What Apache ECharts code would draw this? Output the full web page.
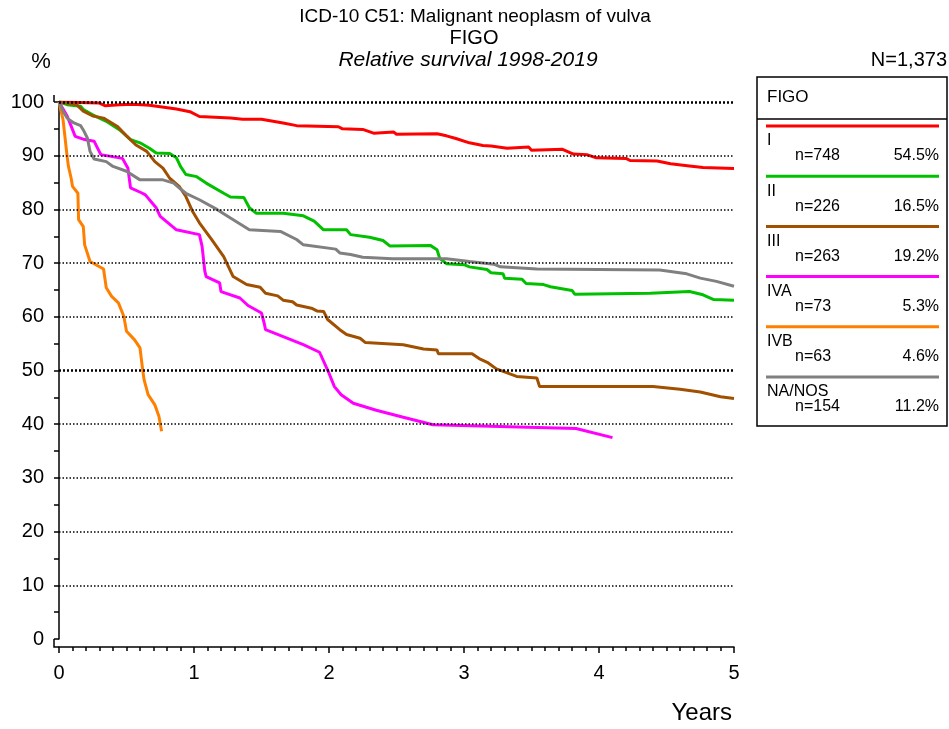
<!DOCTYPE html>
<html lang="en">
<head>
    <meta charset="UTF-8">
    <title>Relative survival by FIGO stage</title>
    <script src="https://cdn.jsdelivr.net/npm/echarts@6/dist/echarts.min.js"></script>
    <style>
        body { margin: 0; background: #fff; }
    </style>
</head>
<body>
<div id="chart" style="width: 949px;height:729px;"></div>
<script type="text/javascript">
    // survival curves, [years, percent]
    var stageI = [[0, 100], [0.3, 99.8], [0.34, 99.3], [0.45, 99.5], [0.55, 99.6], [0.67, 99.4], [0.87, 98.7], [0.97, 98.2],
        [1.04, 97.3], [1.27, 97.0], [1.36, 96.8], [1.5, 96.8], [1.66, 96.1], [1.76, 95.6], [2.07, 95.4], [2.1, 95.0],
        [2.25, 94.9], [2.33, 94.2], [2.48, 94.4], [2.5, 94.0], [2.8, 94.1], [2.87, 93.7], [2.94, 93.2], [3.04, 92.4],
        [3.14, 91.9], [3.2, 91.8], [3.32, 91.4], [3.48, 91.6], [3.5, 91.0], [3.73, 91.2], [3.81, 90.3], [3.91, 90.2],
        [3.98, 89.6], [4.2, 89.5], [4.23, 89.1], [4.43, 89.0], [4.53, 88.5], [4.67, 88.1], [4.77, 87.8], [5, 87.6]];
    var stageII = [[0, 100], [0.06, 99.5], [0.16, 99.2], [0.18, 98.6], [0.25, 97.6], [0.35, 96.4], [0.45, 94.8], [0.53, 93.0],
        [0.6, 92.4], [0.67, 91.4], [0.72, 90.5], [0.82, 90.4], [0.87, 89.6], [0.9, 88.0], [0.94, 86.5], [1.02, 86.1],
        [1.09, 84.9], [1.22, 83.0], [1.27, 82.3], [1.37, 82.2], [1.41, 80.3], [1.46, 79.3], [1.66, 79.3], [1.81, 78.8],
        [1.89, 77.8], [1.96, 76.2], [2.13, 76.2], [2.16, 75.3], [2.3, 74.8], [2.4, 74.2], [2.45, 73.2], [2.75, 73.3],
        [2.8, 72.5], [2.82, 70.9], [2.87, 69.9], [3.0, 69.7], [3.04, 69.3], [3.17, 68.8], [3.2, 68.2], [3.29, 68.0],
        [3.3, 67.2], [3.43, 67.0], [3.46, 66.2], [3.59, 66.0], [3.64, 65.6], [3.8, 64.9], [3.82, 64.2], [4.38, 64.4],
        [4.67, 64.7], [4.77, 64.1], [4.85, 63.2], [5, 63.1]];
    var stageIII = [[0, 100], [0.13, 99.5], [0.18, 98.3], [0.25, 97.4], [0.33, 97.0], [0.43, 95.5], [0.5, 93.7], [0.57, 92.0],
        [0.65, 90.8], [0.71, 88.9], [0.77, 87.7], [0.82, 85.8], [0.89, 84.3], [0.94, 82.4], [0.99, 79.6], [1.04, 77.5],
        [1.13, 74.4], [1.22, 71.2], [1.29, 67.5], [1.39, 66.0], [1.49, 65.5], [1.53, 64.4], [1.62, 63.9], [1.66, 63.1],
        [1.73, 62.8], [1.76, 62.2], [1.87, 61.6], [1.91, 61.1], [1.96, 61.0], [1.99, 59.5], [2.08, 57.6], [2.13, 56.7],
        [2.23, 56.0], [2.27, 55.2], [2.55, 54.8], [2.7, 54.0], [2.8, 53.8], [2.81, 53.1], [3.06, 53.1], [3.12, 52.1],
        [3.18, 51.4], [3.24, 50.3], [3.39, 48.9], [3.54, 48.6], [3.56, 47.0], [4.4, 47.0], [4.6, 46.5], [4.75, 46.0],
        [4.9, 45.1], [5, 44.8]];
    var stageIVA = [[0, 100], [0.06, 97.4], [0.09, 95.5], [0.12, 93.6], [0.19, 93.0], [0.26, 92.7], [0.28, 91.7], [0.31, 90.2],
        [0.47, 89.5], [0.51, 87.7], [0.53, 84.0], [0.61, 83.1], [0.64, 82.7], [0.69, 81.2], [0.72, 80.3], [0.75, 78.7],
        [0.87, 76.2], [1.04, 75.3], [1.06, 73.1], [1.08, 68.5], [1.09, 67.5], [1.19, 66.3], [1.2, 64.7], [1.34, 63.5],
        [1.4, 62.1], [1.5, 60.7], [1.52, 58.8], [1.53, 57.6], [1.81, 54.8], [1.93, 53.4], [2.0, 49.5], [2.04, 47.0],
        [2.09, 45.5], [2.18, 43.9], [2.35, 42.6], [2.55, 41.3], [2.77, 39.9], [3.83, 39.2], [4.1, 37.5]];
    var stageIVB = [[0, 100], [0.03, 96.7], [0.06, 89.9], [0.07, 88.0], [0.09, 85.8], [0.1, 84.3], [0.14, 83.0], [0.145, 78.1],
        [0.18, 76.8], [0.19, 73.4], [0.23, 70.3], [0.33, 68.9], [0.35, 65.4], [0.39, 63.8], [0.44, 62.6], [0.48, 60.1],
        [0.5, 57.3], [0.56, 55.7], [0.6, 54.2], [0.62, 50.1], [0.63, 48.3], [0.66, 45.5], [0.71, 43.6], [0.74, 41.5],
        [0.76, 38.7]];
    var stageNA = [[0, 100], [0.03, 98.3], [0.06, 97.0], [0.11, 96.1], [0.16, 95.6], [0.18, 94.8], [0.21, 93.3], [0.23, 90.8],
        [0.26, 89.4], [0.35, 88.9], [0.4, 88.0], [0.5, 87.1], [0.6, 85.5], [0.77, 85.5], [0.85, 84.9], [0.89, 84.0],
        [0.94, 83.0], [1.04, 81.8], [1.17, 80.0], [1.27, 78.4], [1.41, 76.2], [1.64, 75.9], [1.76, 74.4], [1.81, 73.4],
        [2.05, 72.6], [2.08, 71.9], [2.16, 71.6], [2.25, 71.1], [2.47, 70.8], [2.87, 70.8], [3.04, 70.3], [3.22, 69.8],
        [3.27, 69.3], [3.54, 68.9], [4.45, 68.7], [4.65, 68.0], [4.75, 67.2], [4.87, 66.6], [5, 65.7]];

    var groups = ['I', 'II', 'III', 'IVA', 'IVB', 'NA/NOS'];
    var counts = [748, 226, 263, 73, 63, 154];
    var shares = ['54.5%', '16.5%', '19.2%', '5.3%', '4.6%', '11.2%'];
    var colors = ['#ff0000', '#00c000', '#a05000', '#ff00ff', '#ff8000', '#808080'];
    var curves = [stageI, stageII, stageIII, stageIVA, stageIVB, stageNA];
    var gridValues = [10, 20, 30, 40, 50, 60, 70, 80, 90, 100];
    var boldGrid = [50, 100];

    var font = "'Liberation Sans', Arial, sans-serif";
    var chart = echarts.init(document.getElementById('chart'));

    var series = curves.map(function (d, i) {
        return {
            name: groups[i],
            type: 'line',
            data: d,
            showSymbol: false,
            silent: true,
            lineStyle: {color: colors[i], width: 3},
            itemStyle: {color: colors[i]},
            z: 3
        };
    });
    // dotted reference lines
    series.push({
        type: 'line',
        data: [],
        silent: true,
        markLine: {
            silent: true,
            symbol: 'none',
            label: {show: false},
            data: gridValues.map(function (v) {
                var bold = boldGrid.indexOf(v) >= 0;
                return {
                    yAxis: v,
                    lineStyle: {color: '#000', type: bold ? [2, 2] : [1.5, 2], width: bold ? 2.5 : 1.5}
                };
            })
        },
        z: 1
    });

    // legend box
    var legendItems = [
        {type: 'rect', shape: {x: 757, y: 77, width: 190, height: 349}, style: {fill: '#fff', stroke: '#000', lineWidth: 1.5}},
        {type: 'line', shape: {x1: 757, y1: 119, x2: 947, y2: 119}, style: {stroke: '#000', lineWidth: 1.5}},
        {type: 'text', x: 767, y: 97, style: {text: 'FIGO', font: '17px ' + font, fill: '#000', textVerticalAlign: 'middle'}}
    ];
    groups.forEach(function (g, i) {
        var ly = 126 + i * 50.2;
        legendItems.push(
            {type: 'line', shape: {x1: 766, y1: ly, x2: 939, y2: ly}, style: {stroke: colors[i], lineWidth: 3}},
            {type: 'text', x: 767, y: ly + 15, style: {text: g, font: '16px ' + font, fill: '#000', textVerticalAlign: 'middle'}},
            {type: 'text', x: 795, y: ly + 30, style: {text: 'n=' + counts[i], font: '16px ' + font, fill: '#000', textVerticalAlign: 'middle'}},
            {type: 'text', x: 939, y: ly + 30, style: {text: shares[i], font: '16px ' + font, fill: '#000', textAlign: 'right', textVerticalAlign: 'middle'}}
        );
    });

    var texts = [
        {type: 'text', x: 475, y: 17, style: {text: 'ICD-10 C51: Malignant neoplasm of vulva', font: '19px ' + font, fill: '#000', textAlign: 'center', textVerticalAlign: 'middle'}},
        {type: 'text', x: 474, y: 38, style: {text: 'FIGO', font: '20px ' + font, fill: '#000', textAlign: 'center', textVerticalAlign: 'middle'}},
        {type: 'text', x: 468, y: 60, style: {text: 'Relative survival 1998-2019', font: 'italic 21px ' + font, fill: '#000', textAlign: 'center', textVerticalAlign: 'middle'}},
        {type: 'text', x: 41, y: 62, style: {text: '%', font: '22px ' + font, fill: '#000', textAlign: 'center', textVerticalAlign: 'middle'}},
        {type: 'text', x: 947, y: 60, style: {text: 'N=1,373', font: '20px ' + font, fill: '#000', textAlign: 'right', textVerticalAlign: 'middle'}},
        {type: 'text', x: 732, y: 713, style: {text: 'Years', font: '24px ' + font, fill: '#000', textAlign: 'right', textVerticalAlign: 'middle'}},
        // close the corner where the offset axes meet
        {type: 'polyline', shape: {points: [[54, 95], [54, 102]]}, style: {stroke: '#000', lineWidth: 1.5}},
        {type: 'polyline', shape: {points: [[54, 639], [54, 647], [59, 647]]}, style: {stroke: '#000', lineWidth: 1.5, fill: null}}
    ];

    var option = {
        animation: false,
        backgroundColor: '#fff',
        textStyle: {fontFamily: font},
        grid: {left: 59, right: 215, top: 102, bottom: 90},
        xAxis: {
            type: 'value',
            min: 0,
            max: 5,
            interval: 1,
            offset: 8,
            axisLine: {show: true, onZero: false, lineStyle: {color: '#000', width: 1.5}},
            axisTick: {show: true, length: 6, lineStyle: {color: '#000', width: 1.5}},
            minorTick: {show: true, splitNumber: 10, length: 4, lineStyle: {color: '#000', width: 1.5}},
            axisLabel: {fontSize: 20, color: '#000', margin: 16, fontFamily: font},
            splitLine: {show: false}
        },
        yAxis: {
            type: 'value',
            min: 0,
            max: 100,
            interval: 10,
            offset: 5,
            axisLine: {show: true, lineStyle: {color: '#000', width: 1.5}},
            axisTick: {show: true, length: 5, lineStyle: {color: '#000', width: 1.5}},
            minorTick: {show: true, splitNumber: 2, length: 5, lineStyle: {color: '#000', width: 1.5}},
            axisLabel: {fontSize: 20, color: '#000', margin: 10, fontFamily: font},
            splitLine: {show: false}
        },
        series: series,
        graphic: texts.concat(legendItems)
    };

    chart.setOption(option);
</script>
</body>
</html>
